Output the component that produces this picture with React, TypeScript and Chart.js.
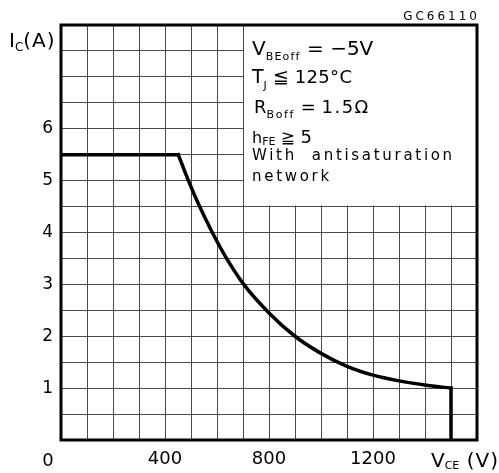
import React, { useEffect, useRef } from 'react';
import { Chart, registerables } from 'chart.js';
Chart.register(...registerables);

// Collector-emitter voltage (V) and collector current (A) of the safe operating boundary
const vce = [0, 451, 490, 535, 582, 631, 700, 800, 900, 1000, 1100, 1200, 1300, 1400, 1500, 1500];
const ic = [5.5, 5.5, 5.0, 4.48, 4.0, 3.55, 3.02, 2.45, 2.0, 1.67, 1.42, 1.25, 1.14, 1.06, 1.0, 0];
// index ranges of the boundary pieces: flat limit, curved limit, vertical cut-off
const pieceStarts = [0, 1, 14];
const pieceEnds = [1, 14, 15];

const xTickLabels = [400, 800, 1200];
const yTickLabels = [1, 2, 3, 4, 5, 6];
const xOriginLabel = '0';
const xMax = 1600;
const yMax = 8;
const xStep = 100;
const yStep = 0.5;
// Region of the notes box, in data units
const noteBoxV = [700, 1600];
const noteBoxI = [4.5, 8];
const figureId = 'GC66110';

const FONT = "'DejaVu Sans', sans-serif";

type Run = { t: string; size: number; dy?: number; ls?: number };

function drawRuns(ctx: CanvasRenderingContext2D, x: number, y: number, runs: Run[]) {
  let cx = x;
  for (const r of runs) {
    ctx.font = `${r.size}px ${FONT}`;
    (ctx as any).letterSpacing = `${r.ls ?? 0}px`;
    ctx.fillText(r.t, cx, y + (r.dy ?? 0));
    cx += ctx.measureText(r.t).width;
  }
  (ctx as any).letterSpacing = '0px';
}

const overlay = {
  id: 'overlay',
  beforeDatasetsDraw(chart: any) {
    const { ctx } = chart;
    const xs = chart.scales.x;
    const ys = chart.scales.y;
    const x0 = xs.getPixelForValue(noteBoxV[0]) + 1;
    const x1 = xs.getPixelForValue(noteBoxV[1]);
    const y0 = ys.getPixelForValue(noteBoxI[1]);
    const y1 = ys.getPixelForValue(noteBoxI[0]) - 1;
    ctx.save();
    ctx.fillStyle = '#fff';
    ctx.fillRect(x0, y0, x1 - x0, y1 - y0);
    ctx.restore();
  },
  afterDraw(chart: any) {
    const { ctx, chartArea } = chart;
    const { left, top, right, bottom } = chartArea;
    const xs = chart.scales.x;
    ctx.save();
    ctx.strokeStyle = '#000';
    ctx.lineWidth = 3;
    ctx.strokeRect(left, top, right - left, bottom - top);

    ctx.fillStyle = '#000';
    ctx.textBaseline = 'alphabetic';
    ctx.textAlign = 'left';

    // y axis title
    drawRuns(ctx, 9, 47, [
      { t: 'I', size: 20 },
      { t: 'C', size: 12, dy: 4 },
      { t: '(A)', size: 20, ls: 1 },
    ]);
    // x axis title
    drawRuns(ctx, 431, 467, [
      { t: 'V', size: 20 },
      { t: 'CE', size: 11, dy: 2 },
      { t: ' (V)', size: 20, ls: 1 },
    ]);
    // origin label
    ctx.font = `18px ${FONT}`;
    ctx.textAlign = 'center';
    ctx.fillText(xOriginLabel, xs.getPixelForValue(0) - 13, bottom + 26);
    ctx.textAlign = 'left';

    // figure id
    ctx.font = `12px ${FONT}`;
    (ctx as any).letterSpacing = '3px';
    const w = ctx.measureText(figureId).width;
    ctx.fillText(figureId, right - w + 3, 20);
    (ctx as any).letterSpacing = '0px';

    // notes
    const bx = xs.getPixelForValue(noteBoxV[0]) + 9;
    drawRuns(ctx, bx, top + 30, [
      { t: 'V', size: 20 },
      { t: 'BEoff', size: 11, dy: 5, ls: 1.2 },
      { t: ' = \u22125V', size: 20 },
    ]);
    drawRuns(ctx, bx, top + 58, [
      { t: 'T', size: 19 },
      { t: 'J', size: 11, dy: 6 },
      { t: ' \u2266 ', size: 19 },
      { t: '125\u00B0C', size: 18, ls: 0.3 },
    ]);
    drawRuns(ctx, bx + 2, top + 88, [
      { t: 'R', size: 18 },
      { t: 'Boff', size: 11, dy: 5, ls: 1.6 },
      { t: ' = ', size: 18 },
      { t: '1.5\u03A9', size: 18, ls: 1.5 },
    ]);
    drawRuns(ctx, bx, top + 118, [
      { t: 'h', size: 16 },
      { t: 'FE', size: 11, dy: 2 },
      { t: ' \u2267 ', size: 17 },
      { t: '5', size: 18 },
    ]);
    drawRuns(ctx, bx, top + 135, [{ t: 'With  antisaturation', size: 15, ls: 2.7 }]);
    drawRuns(ctx, bx, top + 156, [{ t: 'network', size: 15, ls: 2.7 }]);
    ctx.restore();
  },
};

export default function App() {
  const ref = useRef<HTMLCanvasElement | null>(null);
  useEffect(() => {
    if (!ref.current) return;
    const lineStyle = {
      borderColor: '#000',
      borderWidth: 3.5,
      pointRadius: 0,
      fill: false,
      borderJoinStyle: 'miter',
      borderCapStyle: 'square',
    };
    const datasets = pieceStarts.map((s, k) => {
      const pts = [];
      for (let i = s; i <= pieceEnds[k]; i++) pts.push({ x: vce[i], y: ic[i] });
      return {
        ...lineStyle,
        data: pts,
        tension: k === 1 ? 0.4 : 0,
        cubicInterpolationMode: k === 1 ? 'monotone' : 'default',
      } as any;
    });
    const chart = new Chart(ref.current, {
      type: 'line',
      data: { datasets },
      options: {
        animation: false,
        responsive: false,
        maintainAspectRatio: false,
        layout: { padding: { left: 0, top: 25, right: 22, bottom: 0 } },
        plugins: { legend: { display: false }, tooltip: { enabled: false } },
        scales: {
          x: {
            type: 'linear',
            min: 0,
            max: xMax,
            afterFit: (s: any) => {
              s.height = 33;
            },
            ticks: {
              stepSize: xStep,
              autoSkip: false,
              maxRotation: 0,
              padding: 9,
              color: '#000',
              font: { family: FONT, size: 18 },
              callback: (v: any) => (xTickLabels.includes(Number(v)) ? String(v) : ''),
            },
            grid: { color: '#4a4a4a', lineWidth: 1, drawTicks: false },
            border: { display: false },
          },
          y: {
            type: 'linear',
            min: 0,
            max: yMax,
            afterFit: (s: any) => {
              s.width = 61;
            },
            ticks: {
              stepSize: yStep,
              autoSkip: false,
              padding: 8,
              color: '#000',
              font: { family: FONT, size: 17 },
              callback: (v: any) => (yTickLabels.includes(Number(v)) ? String(v) : ''),
            },
            grid: { color: '#4a4a4a', lineWidth: 1, drawTicks: false },
            border: { display: false },
          },
        },
      },
      plugins: [overlay],
    });
    return () => chart.destroy();
  }, []);
  return (
    <div style={{ position: 'fixed', left: 0, top: 0, width: 499, height: 473, background: '#fff' }}>
      <canvas ref={ref} width={499} height={473} style={{ width: 499, height: 473 }} />
    </div>
  );
}
